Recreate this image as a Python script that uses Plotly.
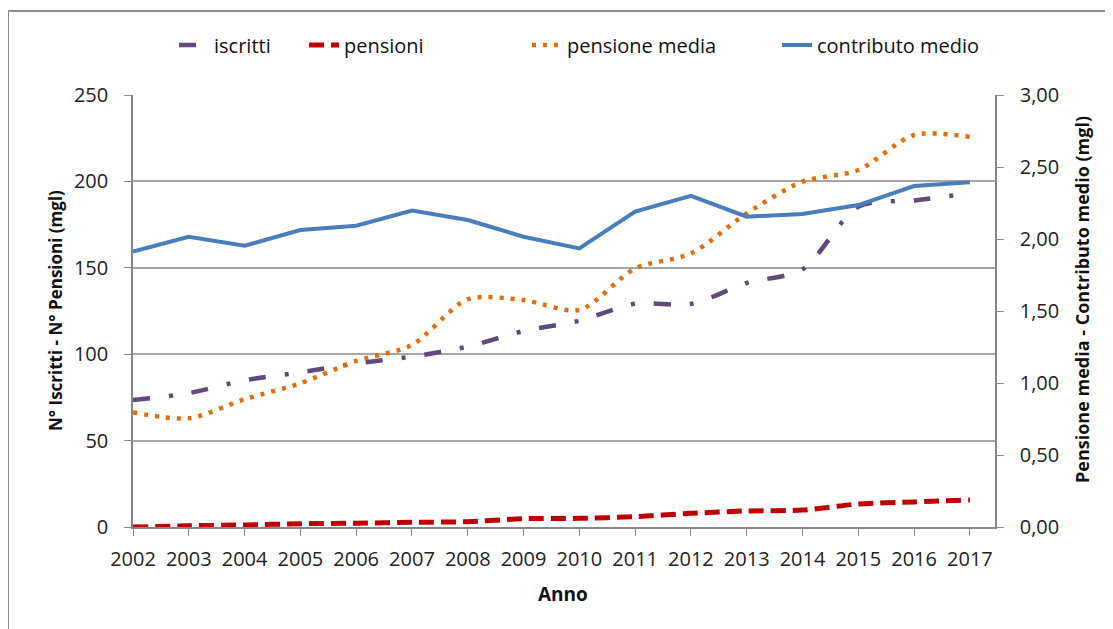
import plotly.graph_objects as go

anni = list(range(2002, 2018))
iscritti = [73.5, 77.5, 84.9, 89.5, 94.7, 98.6, 104.4, 113.4, 119.4, 129.2, 129.1, 141.2, 149.1, 185.4, 189.0, 193.1]
pensioni = [0.0, 0.7, 1.2, 1.9, 2.2, 2.7, 3.1, 4.8, 5.0, 6.0, 7.9, 9.3, 9.8, 13.3, 14.5, 15.6]
pensione_media = [0.796, 0.755, 0.887, 0.998, 1.153, 1.264, 1.581, 1.576, 1.507, 1.796, 1.90, 2.178, 2.398, 2.479, 2.722, 2.710]
contributo_medio = [1.912, 2.016, 1.953, 2.062, 2.092, 2.197, 2.132, 2.016, 1.935, 2.19, 2.30, 2.155, 2.174, 2.236, 2.368, 2.394]

FONT = "Open Sans, DejaVu Sans, sans-serif"
W, H = 1113, 629
OFF = 8  # page body margin
L, R, T, B = 133, 995, 95, 527
pw, ph = R - L, B - T

def px(xp):
    return (xp - L) / pw

def py(yp):
    return (B - yp) / ph

fig = go.Figure()
fig.add_trace(go.Scatter(x=anni, y=iscritti, name="iscritti", mode="lines",
                         line=dict(color="#604A7B", width=4.5, dash="17px,19px,4px,19px", shape="spline", smoothing=0.8),
                         legend="legend"))
fig.add_trace(go.Scatter(x=anni, y=pensioni, name="pensioni", mode="lines",
                         line=dict(color="#C00000", width=5, dash="15px,7px", shape="spline", smoothing=0.8),
                         legend="legend2"))
fig.add_trace(go.Scatter(x=anni, y=pensione_media, name="pensione media", mode="lines", yaxis="y2",
                         line=dict(color="#E46C0A", width=4.5, dash="4px,7px", shape="spline", smoothing=0.8),
                         legend="legend3"))
fig.add_trace(go.Scatter(x=anni, y=contributo_medio, name="contributo medio", mode="lines", yaxis="y2",
                         line=dict(color="#4A7EBB", width=4), legend="legend4"))

axis_col = "#868686"
tickfont = dict(family=FONT, size=20, color="#222222")

leg_common = dict(orientation="h", yanchor="middle", y=py(45), xanchor="left",
                  font=dict(family=FONT, size=20, color="#111111"), bgcolor="rgba(0,0,0,0)")

fig.update_layout(
    width=W, height=H,
    margin=dict(l=L - OFF, r=W - R + OFF, t=T - OFF, b=H - B + OFF, pad=0),
    paper_bgcolor="white", plot_bgcolor="white",
    separators=",.",
    showlegend=True,
    legend=dict(leg_common, x=px(215 - 41)),
    legend2=dict(leg_common, x=px(345 - 41)),
    legend3=dict(leg_common, x=px(568 - 41)),
    legend4=dict(leg_common, x=px(818 - 41)),
    xaxis=dict(range=[2002, 2017.45], tickmode="array", tickvals=anni, ticktext=[str(a) for a in anni],
               showgrid=False, zeroline=False, showline=True, linecolor=axis_col, linewidth=1.5,
               ticks="outside", ticklen=7, tickcolor=axis_col, tickwidth=1.2,
               tickfont=tickfont, ticklabelstandoff=6),
    yaxis=dict(range=[0, 250], dtick=50, tick0=0, showgrid=True, gridcolor="#A6A6A6", gridwidth=1.5,
               zeroline=False, showline=True, linecolor=axis_col, linewidth=1.5,
               ticks="outside", ticklen=7, tickcolor=axis_col, tickwidth=1.2,
               tickfont=tickfont, ticklabelstandoff=12),
    yaxis2=dict(range=[0, 3], dtick=0.5, tick0=0, tickformat=".2f", overlaying="y", side="right",
                showgrid=False, zeroline=False, showline=True, linecolor=axis_col, linewidth=1.5,
                ticks="outside", ticklen=7, tickcolor=axis_col, tickwidth=1.2,
                tickfont=tickfont, ticklabelstandoff=12),
    annotations=[
        dict(text="<b>N° Iscritti - N° Pensioni (mgl)</b>", xref="paper", yref="paper",
             x=px(55), y=py(311), textangle=-90, showarrow=False, xanchor="center", yanchor="middle",
             font=dict(family=FONT, size=17, color="#111111")),
        dict(text="<b>Pensione media - Contributo medio (mgl)</b>", xref="paper", yref="paper",
             x=px(1082), y=py(300), textangle=-90, showarrow=False, xanchor="center", yanchor="middle",
             font=dict(family=FONT, size=18, color="#111111")),
        dict(text="<b>Anno</b>", xref="paper", yref="paper", x=px(563), y=py(594),
             showarrow=False, xanchor="center", yanchor="middle",
             font=dict(family=FONT, size=19, color="#111111")),
    ],
    shapes=[
        dict(type="rect", xref="paper", yref="paper", x0=px(8), x1=px(1130), y0=py(650), y1=py(11),
             line=dict(color="#8C8C8C", width=2), fillcolor="rgba(0,0,0,0)", layer="below"),
    ],
)

fig.write_html("out.html")
